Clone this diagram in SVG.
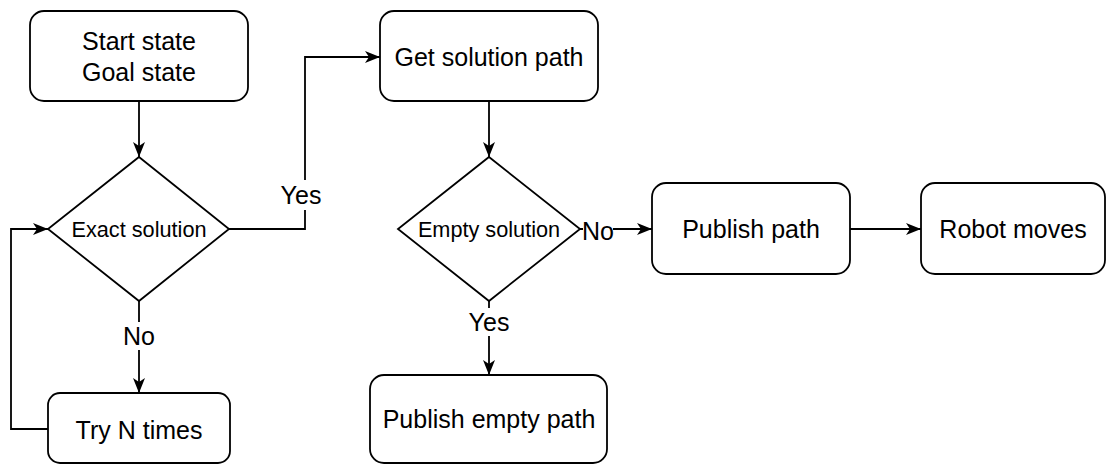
<svg xmlns="http://www.w3.org/2000/svg" width="1116" height="464" viewBox="0 0 1116 464">
  <style>
    .box { fill: #ffffff; stroke: #000000; stroke-width: 1.8; }
    .edge { fill: none; stroke: #000000; stroke-width: 1.8; }
    .t { font-family: "Liberation Sans", Arial, sans-serif; font-size: 25px; fill: #000000; text-anchor: middle; dominant-baseline: central; }
    .ts { font-family: "Liberation Sans", Arial, sans-serif; font-size: 21.7px; fill: #000000; text-anchor: middle; dominant-baseline: central; }
    .lbl { font-family: "Liberation Sans", Arial, sans-serif; font-size: 25px; fill: #000000; text-anchor: middle; dominant-baseline: central; }
    .bg { fill: #ffffff; }
  </style>
  <defs>
    <!-- classic notched arrowhead, tip placed on the target outline -->
    <marker id="arrow" viewBox="0 0 16 16" refX="15" refY="8" markerWidth="16" markerHeight="16" orient="auto" markerUnits="userSpaceOnUse">
      <path d="M0,2 L15,8 L0,14 L4,8 Z" fill="#000000"/>
    </marker>
  </defs>
  <rect width="1116" height="464" fill="#ffffff"/>

  <g id="connectors">
    <path class="edge" d="M139,101 V157" marker-end="url(#arrow)"/>
    <path class="edge" d="M139,301 V393" marker-end="url(#arrow)"/>
    <path class="edge" d="M48,429 H11 V229 H48" marker-end="url(#arrow)"/>
    <path class="edge" d="M229,229 H305 V57 H380" marker-end="url(#arrow)"/>
    <path class="edge" d="M489,101 V157" marker-end="url(#arrow)"/>
    <path class="edge" d="M489,301 V375" marker-end="url(#arrow)"/>
    <path class="edge" d="M580,229 H652" marker-end="url(#arrow)"/>
    <path class="edge" d="M850,229 H921" marker-end="url(#arrow)"/>
    <rect class="bg" x="121" y="322" width="36" height="28"/>
    <text class="lbl" x="139" y="336">No</text>
    <rect class="bg" x="279" y="180" width="44" height="30"/>
    <text class="lbl" x="301" y="195">Yes</text>
    <rect class="bg" x="467" y="308" width="44" height="28"/>
    <text class="lbl" x="489" y="322">Yes</text>
    <rect class="bg" x="583" y="217" width="30" height="26"/>
    <text class="lbl" x="598" y="231">No</text>
  </g>

  <g id="start">
    <rect class="box" x="30" y="11" width="218" height="90" rx="14"/>
    <text class="t" x="139" y="41">Start state</text>
    <text class="t" x="139" y="72">Goal state</text>
  </g>
  <g id="exact">
    <path class="box" d="M139,157 L229,229 L139,301 L48,229 Z"/>
    <text class="ts" x="139" y="229">Exact solution</text>
  </g>
  <g id="try">
    <rect class="box" x="48" y="393" width="182" height="70" rx="12"/>
    <text class="t" x="139" y="430">Try N times</text>
  </g>
  <g id="get">
    <rect class="box" x="380" y="11" width="218" height="90" rx="14"/>
    <text class="t" x="489" y="57">Get solution path</text>
  </g>
  <g id="empty">
    <path class="box" d="M489,157 L580,229 L489,301 L398,229 Z"/>
    <text class="ts" x="489" y="229">Empty solution</text>
  </g>
  <g id="publish-empty">
    <rect class="box" x="370" y="375" width="237" height="88" rx="14"/>
    <text class="t" x="489" y="419">Publish empty path</text>
  </g>
  <g id="publish">
    <rect class="box" x="652" y="183" width="198" height="91" rx="14"/>
    <text class="t" x="751" y="229">Publish path</text>
  </g>
  <g id="robot">
    <rect class="box" x="921" y="183" width="184" height="91" rx="14"/>
    <text class="t" x="1013" y="229">Robot moves</text>
  </g>
</svg>
